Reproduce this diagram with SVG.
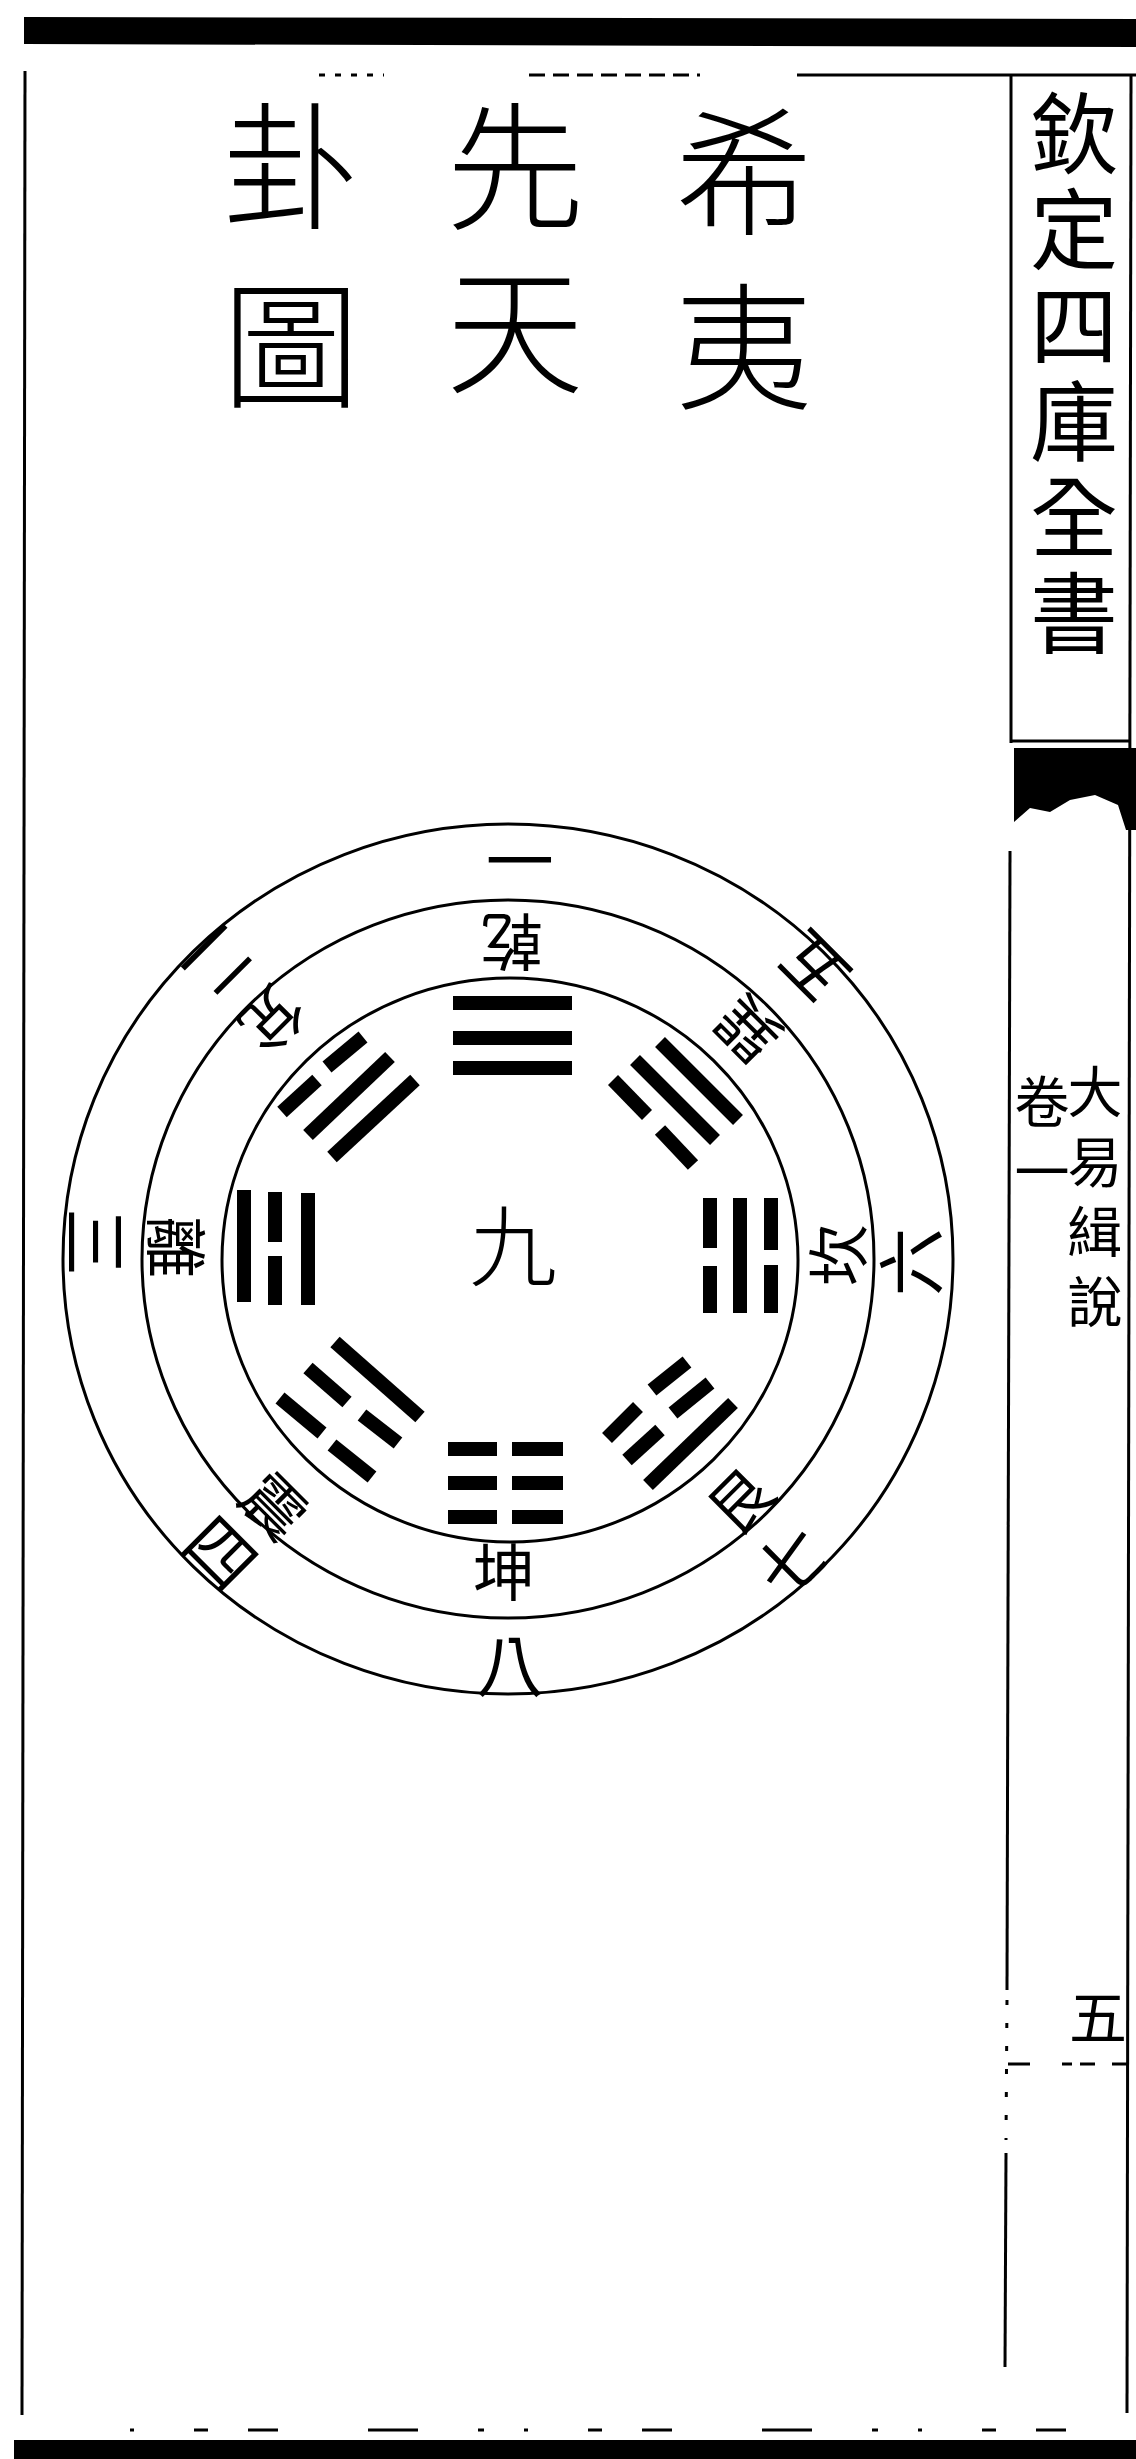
<svg xmlns="http://www.w3.org/2000/svg" width="1136" height="2459" viewBox="0 0 1136 2459">
<style>
  .ink{fill:#000}
  .rule{stroke:#000;fill:none;stroke-width:3}
  .ring{fill:none;stroke:#000;stroke-width:3}
  .bar{stroke:#000;stroke-width:14;stroke-linecap:butt}
  .cjk{font-family:"Noto Sans CJK TC","Noto Sans CJK SC",sans-serif;fill:#000;text-anchor:middle;dominant-baseline:central}
  .v{writing-mode:vertical-rl;text-anchor:start}
  .title{font-size:138px;font-weight:300}
  .margin{font-size:88px;letter-spacing:8px}
  .small{font-size:55px;letter-spacing:15px}
  .lab{font-size:62px}
  .num{font-size:68px}
</style>
<rect width="1136" height="2459" fill="#fff"/>

<g id="frame">
  <polygon class="ink" points="24,17 1136,19 1136,47 24,44"/>
  <rect class="ink" x="14" y="2440" width="1122" height="19"/>
  <line class="rule" x1="25" y1="71" x2="22" y2="2415"/>
  <line class="rule" x1="797" y1="75" x2="1136" y2="75"/>
  <line class="rule" x1="319" y1="75" x2="384" y2="75" stroke-dasharray="6 10"/>
  <line class="rule" x1="529" y1="75" x2="700" y2="75" stroke-dasharray="16 8"/>
  <line class="rule" x1="1131" y1="75" x2="1127" y2="2413" stroke-width="4"/>
  <line class="rule" x1="130" y1="2430" x2="1105" y2="2430" stroke-dasharray="4 60 14 40 30 90 50 60 6 40"/>
</g>

<g id="title">
  <text class="cjk title v" x="744" y="103" style="letter-spacing:37px">希夷</text>
  <text class="cjk title v" x="515" y="97" style="letter-spacing:26px">先天</text>
  <text class="cjk title v" x="291" y="97" style="letter-spacing:41px">卦圖</text>
</g>

<g id="margin">
  <line class="rule" x1="1011" y1="75" x2="1011" y2="743"/>
  <line class="rule" x1="1011" y1="741" x2="1131" y2="741"/>
  <text class="cjk margin v" x="1074" y="89">欽定四庫全書</text>
  <polygon class="ink" points="1014,748 1136,748 1136,830 1126,830 1118,805 1095,795 1070,800 1050,812 1030,808 1014,822"/>
  <line class="rule" x1="1010" y1="851" x2="1007" y2="1990"/>
  <line class="rule" x1="1007" y1="2000" x2="1006" y2="2140" stroke-dasharray="5 18"/>
  <line class="rule" x1="1006" y1="2153" x2="1005" y2="2367"/>
  <text class="cjk small v" x="1095" y="1064">大易緝說</text>
  <text class="cjk small v" x="1042" y="1074">卷一</text>
  <text class="cjk" x="1098" y="2014" font-size="58">五</text>
  <line class="rule" x1="1008" y1="2064" x2="1127" y2="2064" stroke-dasharray="22 32 10 8 15 17 17"/>
</g>

<g id="rings">
  <ellipse class="ring" cx="508" cy="1259" rx="445" ry="435"/>
  <ellipse class="ring" cx="508" cy="1259" rx="366" ry="359"/>
  <ellipse class="ring" cx="510" cy="1260" rx="288" ry="282"/>
</g>

<g id="center">
  <text class="cjk" x="513" y="1240" font-size="88" font-weight="300">九</text>
</g>

<g id="trigram-qian">
  <line class="bar" x1="453" y1="1003" x2="572" y2="1003"/>
  <line class="bar" x1="453" y1="1038" x2="572" y2="1038"/>
  <line class="bar" x1="453" y1="1068" x2="572" y2="1068"/>
</g>
<g id="trigram-kun">
  <line class="bar" x1="448" y1="1449" x2="497" y2="1449"/>
  <line class="bar" x1="512" y1="1449" x2="563" y2="1449"/>
  <line class="bar" x1="448" y1="1483" x2="497" y2="1483"/>
  <line class="bar" x1="512" y1="1483" x2="563" y2="1483"/>
  <line class="bar" x1="448" y1="1517" x2="497" y2="1517"/>
  <line class="bar" x1="512" y1="1517" x2="563" y2="1517"/>
</g>
<g id="trigram-li">
  <line class="bar" x1="244" y1="1190" x2="244" y2="1302"/>
  <line class="bar" x1="275" y1="1192" x2="275" y2="1242"/>
  <line class="bar" x1="275" y1="1256" x2="275" y2="1305"/>
  <line class="bar" x1="308" y1="1193" x2="308" y2="1305"/>
</g>
<g id="trigram-kan">
  <line class="bar" x1="710" y1="1198" x2="710" y2="1248"/>
  <line class="bar" x1="710" y1="1266" x2="710" y2="1313"/>
  <line class="bar" x1="740" y1="1198" x2="740" y2="1313"/>
  <line class="bar" x1="771" y1="1198" x2="771" y2="1250"/>
  <line class="bar" x1="771" y1="1265" x2="771" y2="1313"/>
</g>
<g id="trigram-dui">
  <line class="bar" x1="332" y1="1157" x2="415" y2="1080"/>
  <line class="bar" x1="308" y1="1135" x2="390" y2="1057"/>
  <line class="bar" x1="282" y1="1112" x2="317" y2="1080"/>
  <line class="bar" x1="327" y1="1067" x2="363" y2="1037"/>
</g>
<g id="trigram-xun">
  <line class="bar" x1="660" y1="1042" x2="738" y2="1120"/>
  <line class="bar" x1="635" y1="1060" x2="715" y2="1140"/>
  <line class="bar" x1="613" y1="1080" x2="647" y2="1115"/>
  <line class="bar" x1="660" y1="1130" x2="693" y2="1165"/>
</g>
<g id="trigram-gen">
  <line class="bar" x1="648" y1="1485" x2="733" y2="1403"/>
  <line class="bar" x1="627" y1="1460" x2="660" y2="1430"/>
  <line class="bar" x1="673" y1="1413" x2="710" y2="1383"/>
  <line class="bar" x1="607" y1="1438" x2="638" y2="1407"/>
  <line class="bar" x1="652" y1="1390" x2="687" y2="1362"/>
</g>
<g id="trigram-zhen">
  <line class="bar" x1="335" y1="1342" x2="420" y2="1417"/>
  <line class="bar" x1="308" y1="1368" x2="347" y2="1402"/>
  <line class="bar" x1="362" y1="1415" x2="398" y2="1443"/>
  <line class="bar" x1="280" y1="1398" x2="322" y2="1433"/>
  <line class="bar" x1="332" y1="1445" x2="372" y2="1477"/>
</g>

<g id="names">
  <text class="cjk lab" transform="translate(512,945) rotate(180)">乾</text>
  <text class="cjk lab" transform="translate(275,1022) rotate(135)">兌</text>
  <text class="cjk lab" transform="translate(179,1247) rotate(90)">離</text>
  <text class="cjk lab" transform="translate(277,1503) rotate(45)">震</text>
  <text class="cjk lab" transform="translate(504,1569)" font-size="58">坤</text>
  <text class="cjk lab" transform="translate(738,1498) rotate(-45)">艮</text>
  <text class="cjk lab" transform="translate(835,1255) rotate(-90)">坎</text>
  <text class="cjk lab" transform="translate(745,1032) rotate(-135)">巽</text>
</g>

<g id="numbers">
  <text class="cjk num" transform="translate(520,862) rotate(180)">一</text>
  <text class="cjk num" transform="translate(222,965) rotate(135)">二</text>
  <text class="cjk num" transform="translate(99,1242) rotate(90)">三</text>
  <text class="cjk num" transform="translate(224,1550) rotate(45)">四</text>
  <text class="cjk num" transform="translate(510,1661)" font-size="62">八</text>
  <text class="cjk num" transform="translate(789,1559) rotate(-45)">七</text>
  <text class="cjk num" transform="translate(907,1262) rotate(-90)">六</text>
  <text class="cjk num" transform="translate(810,970) rotate(-135)">五</text>
</g>

<g id="connectors"></g>
</svg>
